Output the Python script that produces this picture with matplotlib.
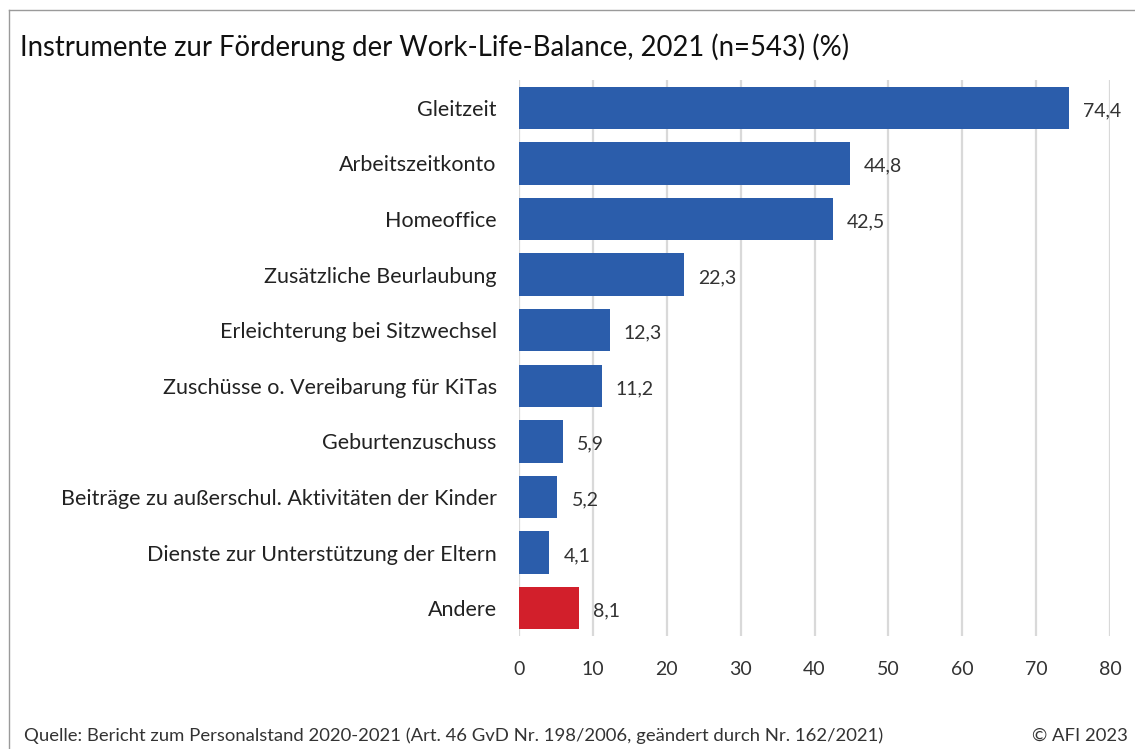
"""Work-Life-Balance instruments, horizontal bar chart."""
import matplotlib

matplotlib.use("Agg")
import matplotlib.pyplot as plt

CATEGORIES = [
    "Gleitzeit",
    "Arbeitszeitkonto",
    "Homeoffice",
    "Zusätzliche Beurlaubung",
    "Erleichterung bei Sitzwechsel",
    "Zuschüsse o. Vereibarung für KiTas",
    "Geburtenzuschuss",
    "Beiträge zu außerschul. Aktivitäten der Kinder",
    "Dienste zur Unterstützung der Eltern",
    "Andere",
]
VALUES = [74.4, 44.8, 42.5, 22.3, 12.3, 11.2, 5.9, 5.2, 4.1, 8.1]
XTICKS = [0, 10, 20, 30, 40, 50, 60, 70, 80]

BLUE = "#2b5dab"
RED = "#d21f2b"

plt.rcParams["font.family"] = ["Lato", "DejaVu Sans"]

W, H = 1135, 749
fig = plt.figure(figsize=(W / 100, H / 100), dpi=100)

# outer frame (open to the right and bottom)
fig.add_artist(plt.Line2D([9 / W, 9 / W], [0, 1 - 10 / H], color="#9a9a9a", lw=1))
fig.add_artist(plt.Line2D([9 / W, 1], [1 - 10 / H, 1 - 10 / H], color="#9a9a9a", lw=1))

ax = fig.add_axes([519 / W, 1 - 636 / H, (1110 - 519) / W, (636 - 80) / H])
ypos = range(len(CATEGORIES))
colors = [RED if c == "Andere" else BLUE for c in CATEGORIES]
ax.barh(ypos, VALUES, height=0.76, color=colors, zorder=3)
for y, v in zip(ypos, VALUES):
    ax.text(v + 1.9, y + 0.05, f"{v:.1f}".replace(".", ","), va="center", ha="left",
            fontsize=14, color="#333333")

ax.set_xlim(0, 80)
ax.set_ylim(len(CATEGORIES) - 0.5, -0.5)
ax.set_xticks(XTICKS)
ax.set_xticklabels([str(t) for t in XTICKS], fontsize=14, color="#333333")
ax.set_yticks(list(ypos))
ax.set_yticklabels(CATEGORIES, fontsize=15.5, color="#222222")
ax.tick_params(axis="both", length=0)
ax.tick_params(axis="x", pad=18)
ax.tick_params(axis="y", pad=16)
ax.grid(axis="x", color="#d9d9d9", lw=1.6, zorder=0)
for s in ax.spines.values():
    s.set_visible(False)

fig.text(20 / W, 1 - 47 / H, "Instrumente zur Förderung der Work-Life-Balance, 2021 (n=543) (%)",
         fontsize=19.8, va="center", ha="left", color="#111111")
fig.text(24 / W, 1 - 736 / H,
         "Quelle: Bericht zum Personalstand 2020-2021 (Art. 46 GvD Nr. 198/2006, geändert durch Nr. 162/2021)",
         fontsize=13.3, va="center", ha="left", color="#333333")
fig.text(1128 / W, 1 - 736 / H, "© AFI 2023", fontsize=13.3, va="center", ha="right",
         color="#333333")

fig.savefig("out.png", dpi=100)
